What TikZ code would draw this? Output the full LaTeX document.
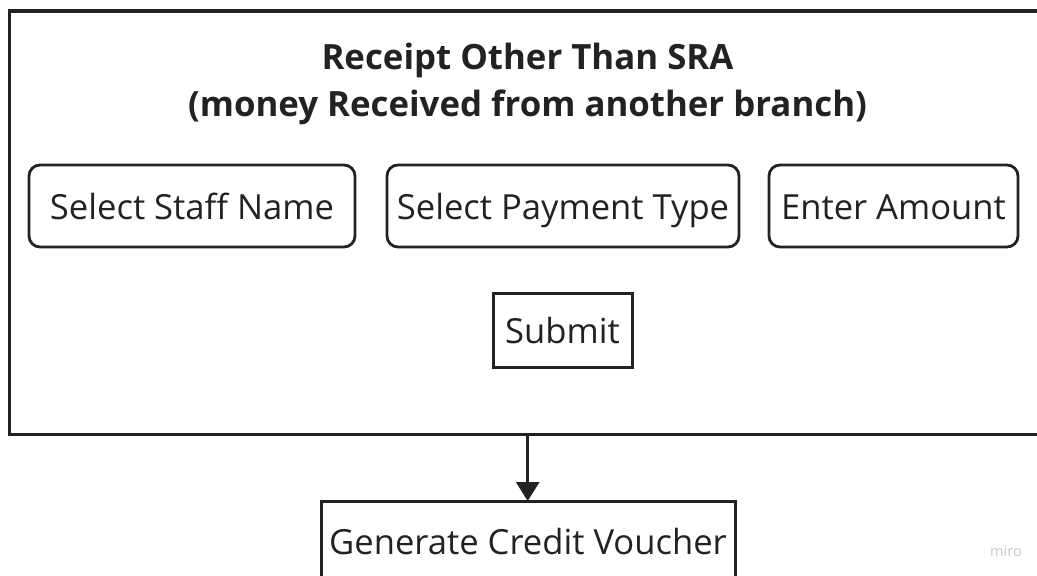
\documentclass[tikz,border=0pt]{standalone}
\usepackage{fontspec}
\setmainfont{Open Sans}
\usetikzlibrary{arrows.meta}
\definecolor{ink}{HTML}{222222}
\definecolor{mark}{HTML}{C4C4D4}
\tikzset{
  every node/.style={inner sep=0pt, outer sep=0pt},
  label text/.style={text=ink, font=\fontsize{34.6}{42}\selectfont, text height=26pt, text depth=0pt},
  field/.style={label text, draw=ink, line width=2.8pt, rounded corners=11pt},
  plainbox/.style={label text, draw=ink, line width=3pt},
  frame/.style={draw=ink, line width=3.2pt},
  title/.style={text=ink, align=center, font=\bfseries\fontsize{34.8}{47}\selectfont},
  flow/.style={draw=ink, line width=3pt, -{Triangle[width=23pt,length=19pt]}}
}
\begin{document}
\begin{tikzpicture}[x=1pt, y=-1pt]
  \useasboundingbox (0,0) rectangle (1037,576);
  \begin{scope}
    \clip (0,0) rectangle (1037,576);
    % outer form panel
    \draw[frame] (9.5,11) rectangle (1060,434.5);
    \node[title] (head) at (527.5,84) {Receipt Other Than SRA\\(money Received from another branch)};
    % input fields
    \node[field, minimum width=326pt, minimum height=82pt] (staff) at (192,206) {Select Staff Name};
    \node[field, minimum width=352pt, minimum height=82pt] (ptype) at (563,206) {Select Payment Type};
    \node[field, minimum width=249pt, minimum height=82pt] (amount) at (893.5,206) {Enter Amount};
    \node[plainbox, minimum width=139pt, minimum height=74pt] (submit) at (562.5,330) {Submit};
    % result step
    \coordinate (panelout) at (527.7,434.5);
    \node[plainbox, minimum width=414pt, minimum height=110pt, anchor=north] (voucher) at (528,501) {};
    \node[text=ink, font=\fontsize{34.6}{42}\selectfont, anchor=base] (vtext) at (528,554) {Generate Credit Voucher};
    \draw[flow] (panelout) -- (voucher.north -| panelout);
    \node[text=mark, font=\fontsize{14.5}{16}\selectfont, anchor=base] (brand) at (1006,556) {miro};
  \end{scope}
\end{tikzpicture}
\end{document}
